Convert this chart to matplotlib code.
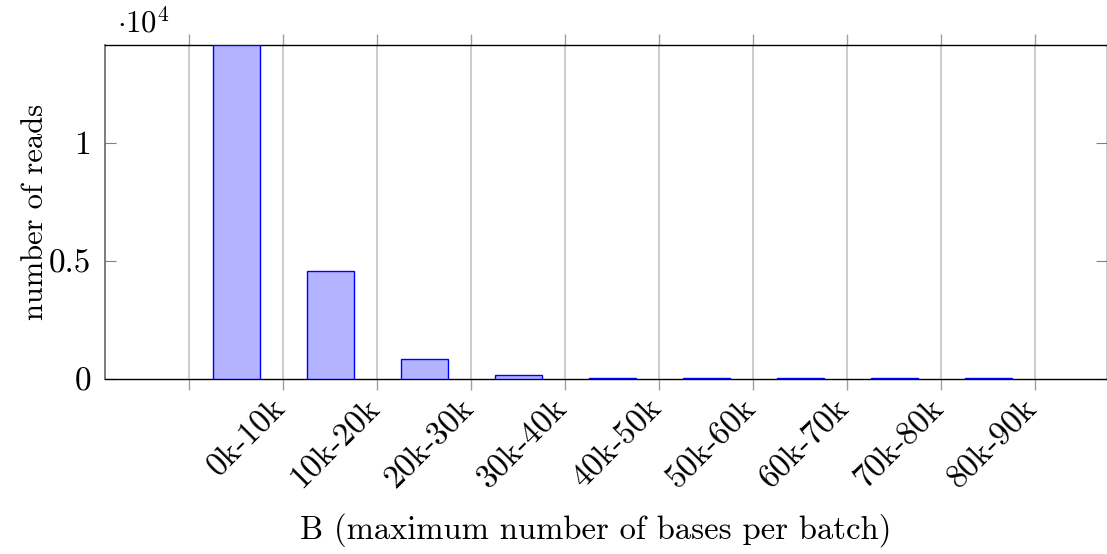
import matplotlib
matplotlib.use("Agg")
import matplotlib.pyplot as plt
import matplotlib.transforms as mtransforms

categories = ["0k-10k", "10k-20k", "20k-30k", "30k-40k", "40k-50k",
              "50k-60k", "60k-70k", "70k-80k", "80k-90k"]
reads = [14150, 4590, 850, 155, 40, 35, 30, 40, 30]
ytick_vals = [0, 5000, 10000]
ytick_labels = ["0", "0.5", "1"]

plt.rcParams['font.family'] = ['cmr10', 'DejaVu Serif']
plt.rcParams['mathtext.fontset'] = 'cm'
plt.rcParams['axes.unicode_minus'] = False

fig = plt.figure(figsize=(11.07, 5.54), dpi=100)
ax = fig.add_axes([105/1107, 1 - 379/554, 1 - 105/1107, (379 - 45)/554])

x = list(range(len(categories)))
ax.bar(x, reads, width=0.5, color='#b3b3ff', edgecolor='#0000ff', linewidth=1.0, zorder=3)

ax.set_xlim(-0.5 - 84/94, 8.5 + 72/94)
ax.set_ylim(0, 14150)

bounds = [i + 0.5 for i in range(-1, len(categories))]
ax.set_xticks(bounds)
ax.set_xticklabels([])
ax.xaxis.grid(True, color='#c4c4c4', linewidth=1.2, zorder=0)
ax.tick_params(axis='x', which='major', direction='out', length=8, width=1.0,
               color='#a0a0a0', top=True, bottom=True)

ax.set_yticks(ytick_vals)
ax.set_yticklabels(ytick_labels, fontsize=24)
ax.tick_params(axis='y', which='major', direction='in', length=8, width=0.8,
               color='#808080', left=True, right=True, pad=10)

for s in ['top', 'bottom', 'right']:
    ax.spines[s].set_color('black')
    ax.spines[s].set_linewidth(1.0)
ax.spines['left'].set_color('#666666')
ax.spines['left'].set_linewidth(1.2)

# category labels, rotated
trans = mtransforms.blended_transform_factory(ax.transData, ax.transAxes)
offset = mtransforms.ScaledTranslation(0, -24/100, fig.dpi_scale_trans)
for i, lab in enumerate(categories):
    ax.text(i + 0.47, 0, lab, rotation=45, rotation_mode='anchor',
            ha='right', va='center', fontsize=24,
            transform=trans + offset)

ax.text(0.012, 1.02, r'$\cdot 10^{4}$', transform=ax.transAxes, fontsize=22,
        ha='left', va='bottom')

fig.text(35/1107, 1 - 212/554, 'number of reads', rotation=90, fontsize=22,
         ha='center', va='center')
fig.text(596/1107, 1 - 530/554, 'B (maximum number of bases per batch)', fontsize=23.5,
         ha='center', va='center')

fig.savefig('out.png', dpi=100)
